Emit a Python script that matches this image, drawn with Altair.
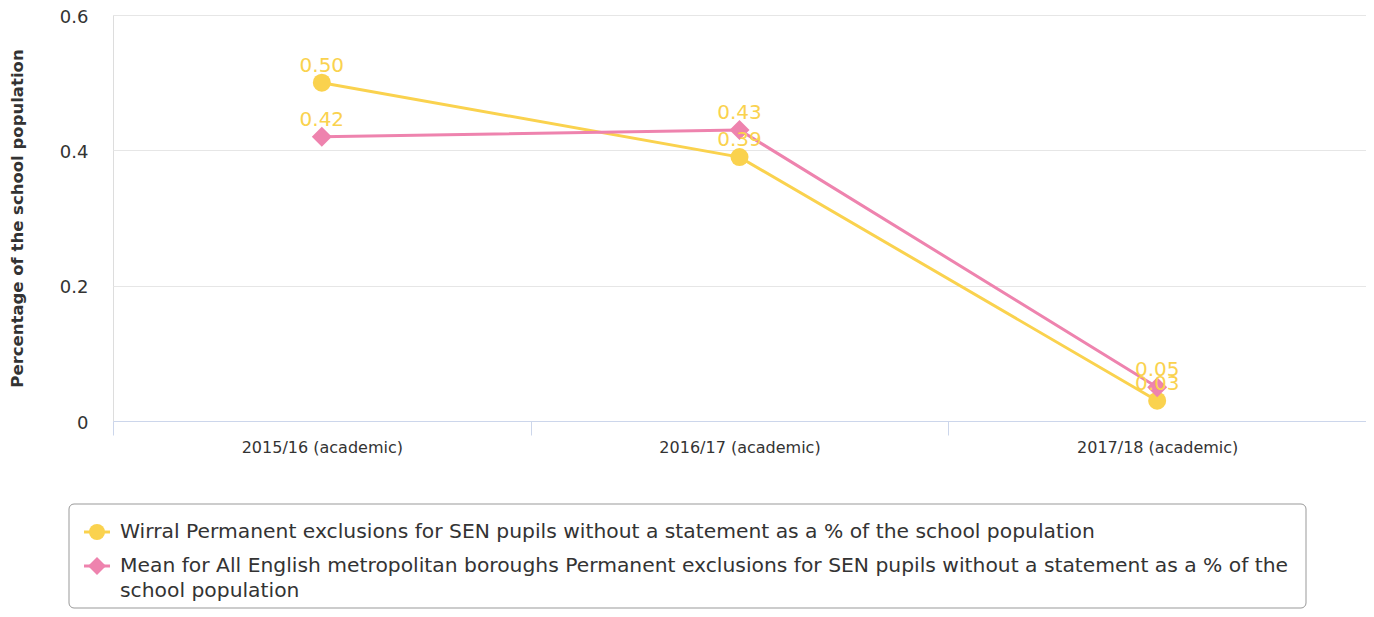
import altair as alt
import pandas as pd

categories = ["2015/16 (academic)", "2016/17 (academic)", "2017/18 (academic)"]
wirral = [0.50, 0.39, 0.03]
mean_met = [0.42, 0.43, 0.05]
series = [
    "Wirral Permanent exclusions for SEN pupils without a statement as a % of the school population",
    "Mean for All English metropolitan boroughs Permanent exclusions for SEN pupils without a statement as a % of the school population",
]
legend_labels = [
    "Wirral Permanent exclusions for SEN pupils without a statement as a % of the school population",
    "Mean for All English metropolitan boroughs Permanent exclusions for SEN pupils without a statement as a % of the\nschool population",
]
y_ticks = [0, 0.2, 0.4, 0.6]

YELLOW = "#FAD24E"
PINK = "#EE83AE"
FONT = "DejaVu Sans"

df_w = pd.DataFrame({"year": categories, "value": wirral, "series": series[0]})
df_m = pd.DataFrame({"year": categories, "value": mean_met, "series": series[1]})
df_all = pd.concat([df_w, df_m], ignore_index=True)

x_enc = alt.X(
    "year:N",
    sort=categories,
    bandPosition=0.5,
    scale=alt.Scale(type="band", paddingInner=0, paddingOuter=0),
    axis=alt.Axis(
        title=None,
        labelAngle=0,
        labelFontSize=16,
        labelColor="#333333",
        labelPadding=4,
        domainColor="#ccd6eb",
        tickColor="#ccd6eb",
        tickSize=14,
        tickBand="extent",
        grid=False,
    ),
)
y_enc = alt.Y(
    "value:Q",
    scale=alt.Scale(domain=[0, 0.6], nice=False),
    axis=alt.Axis(
        values=y_ticks,
        labelExpr="datum.value == 0 ? '0' : format(datum.value, '.1f')",
        title="Percentage of the school population",
        titleFontSize=16.5,
        titleFontWeight="bold",
        titleColor="#333333",
        titleAngle=-90,
        titleX=-96,
        titleY=203,
        titleAlign="center",
        titleBaseline="middle",
        labelFontSize=18,
        labelColor="#333333",
        labelPadding=25,
        labelOffset=2,
        domain=False,
        ticks=False,
        gridColor="#e6e6e6",
        gridWidth=1,
    ),
)

base_w = alt.Chart(df_w).encode(x=x_enc, y=y_enc)
base_m = alt.Chart(df_m).encode(x=x_enc, y=y_enc)

line_w = base_w.mark_line(color=YELLOW, strokeWidth=3)
pts_w = base_w.mark_point(shape="circle", filled=True, size=324, color=YELLOW, opacity=1)
line_m = base_m.mark_line(color=PINK, strokeWidth=3)
pts_m = base_m.mark_point(shape="diamond", filled=True, size=400, color=PINK, opacity=1)

labels = alt.Chart(df_all).mark_text(
    color=YELLOW, fontSize=20, dy=-17, font=FONT
).encode(x=x_enc, y=y_enc, text=alt.Text("value:Q", format=".2f"))

one = pd.DataFrame({"k": [0]})

legend_box = alt.Chart(one).mark_rect(
    fill="white", stroke="#999999", strokeWidth=1, cornerRadius=5
).encode(x=alt.value(-44), x2=alt.value(1193), y=alt.value(489), y2=alt.value(593))

leg_line_w = alt.Chart(one).mark_rule(color=YELLOW, strokeWidth=3).encode(
    x=alt.value(-29), x2=alt.value(-3), y=alt.value(517)
)
leg_pt_w = alt.Chart(one).mark_point(
    shape="circle", filled=True, size=256, color=YELLOW, opacity=1
).encode(x=alt.value(-16), y=alt.value(517))
leg_txt_w = alt.Chart(one).mark_text(
    align="left", baseline="middle", fontSize=20.3, color="#333333", font=FONT
).encode(x=alt.value(7), y=alt.value(517), text=alt.value(legend_labels[0]))

leg_line_m = alt.Chart(one).mark_rule(color=PINK, strokeWidth=3).encode(
    x=alt.value(-29), x2=alt.value(-3), y=alt.value(551)
)
leg_pt_m = alt.Chart(one).mark_point(
    shape="diamond", filled=True, size=324, color=PINK, opacity=1
).encode(x=alt.value(-16), y=alt.value(551))
leg_txt_m = alt.Chart(one).mark_text(
    align="left", baseline="middle", fontSize=20.3, color="#333333", font=FONT,
    lineBreak="\n", lineHeight=25,
).encode(x=alt.value(7), y=alt.value(551), text=alt.value(legend_labels[1]))

chart = alt.layer(
    line_w, pts_w, line_m, pts_m, labels,
    legend_box, leg_line_w, leg_pt_w, leg_txt_w, leg_line_m, leg_pt_m, leg_txt_m,
).properties(
    width=1253,
    height=406,
    autosize=alt.AutoSizeParams(type="none"),
    padding={"left": 105, "top": 7, "right": 0, "bottom": 188},
).configure_view(stroke=None).configure(font=FONT)

chart.save("out.html", embed_options={"renderer": "svg", "actions": False})
